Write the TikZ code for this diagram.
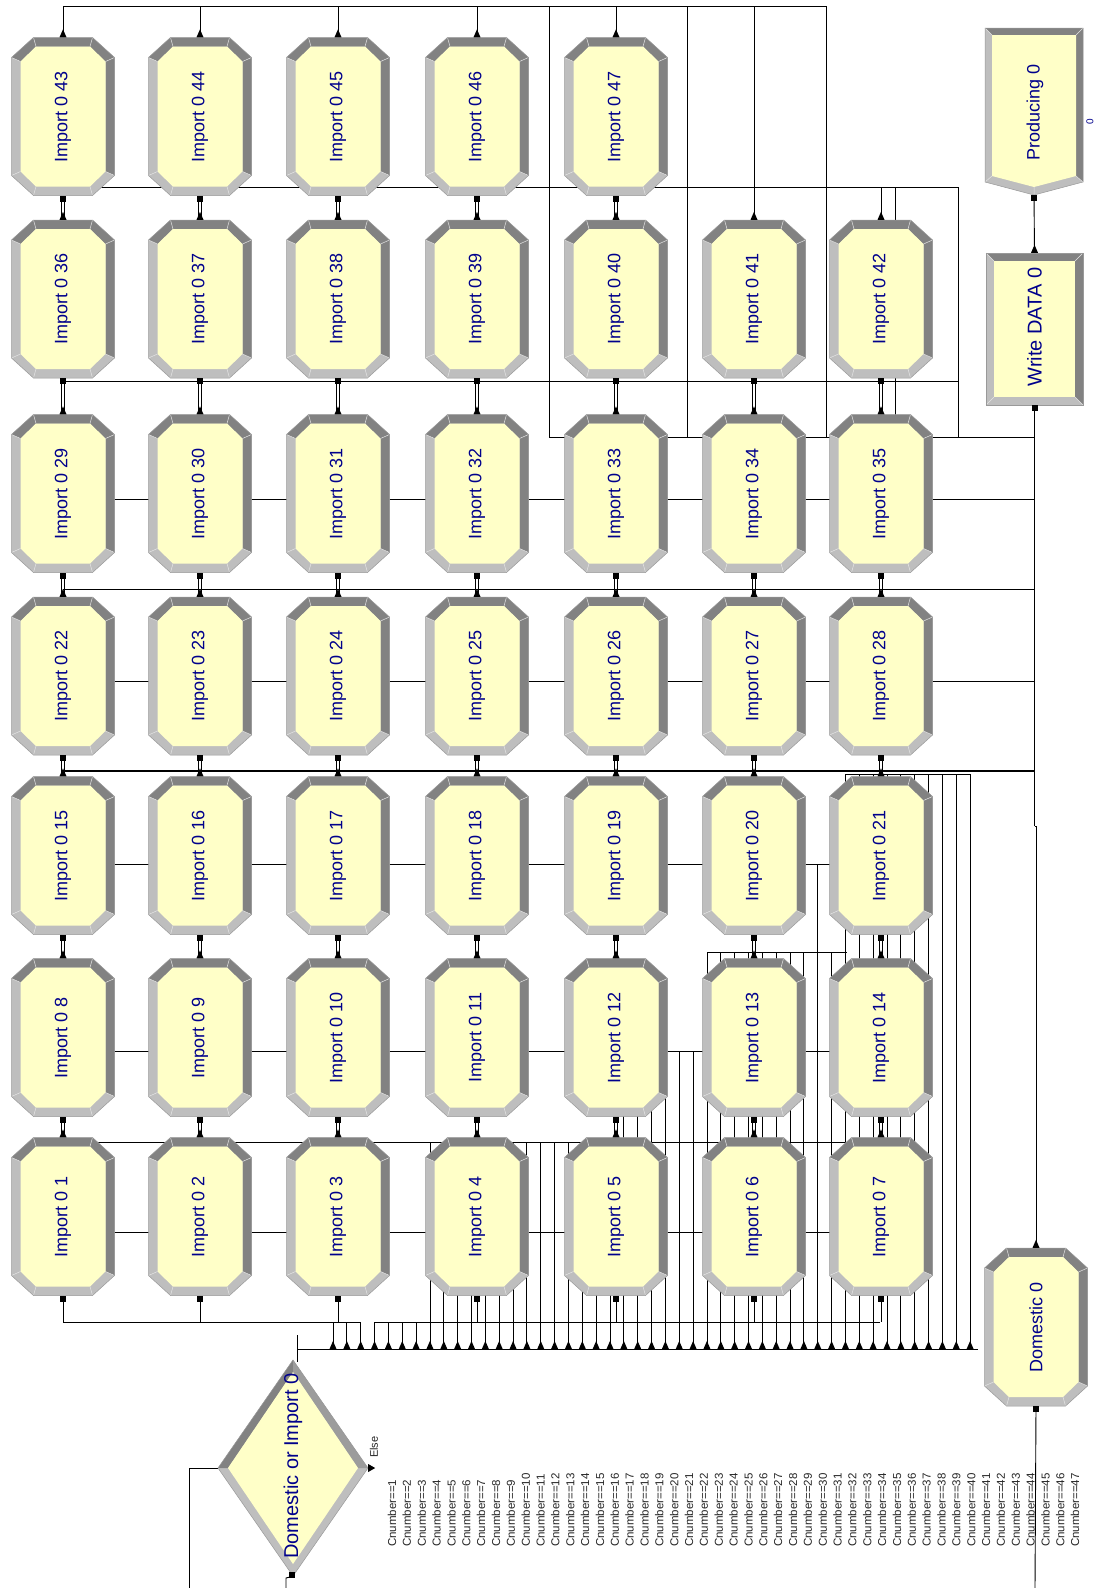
\documentclass[tikz,border=0pt]{standalone}
\usepackage{fontspec}
\setmainfont{Liberation Sans}
\usetikzlibrary{calc}
\pgfdeclarelayer{bg}
\pgfsetlayers{bg,main}

\definecolor{bevd}{HTML}{828282}
\definecolor{bevm}{HTML}{9C9C9C}
\definecolor{bevl}{HTML}{BEBEBE}
\definecolor{modfill}{HTML}{FFFFC8}
\definecolor{modtext}{HTML}{00008C}

\tikzset{
  wire/.style={line width=0.9pt, draw=black},
  thickwire/.style={line width=1.8pt, draw=black},
  modlabel/.style={rotate=90, text=modtext, inner sep=0pt, font=\fontsize{18}{20}\selectfont},
  condlabel/.style={rotate=90, anchor=west, inner sep=0pt, text=black!85, font=\fontsize{11.5}{12}\selectfont},
  anchorbox/.style={inner sep=0pt, minimum width=103pt, minimum height=158pt},
  bevsep/.style={draw=white!80!gray, line width=0.5pt},
  modoutline/.style={draw=black!40, line width=0.5pt},
}

\newcommand\octmod[4]{%
 \begin{scope}[shift={(#2,#3)}]
  \fill[bevl] (-51.5,-59) -- (-29.5,-79) -- (29.5,-79) -- (51.5,-59) -- (51.5,59) -- (29.5,79) -- (-29.5,79) -- (-51.5,59) -- cycle;
  \fill[bevd] (-51.5,-59) -- (-29.5,-79) -- (29.5,-79) -- (51.5,-59) -- (51.5,59) -- (42.5,55) -- (42.5,-55) -- (27,-70) -- (-27,-70) -- (-42.5,-55) -- cycle;
  \fill[modfill] (-42.5,-55) -- (-27,-70) -- (27,-70) -- (42.5,-55) -- (42.5,55) -- (27,70) -- (-27,70) -- (-42.5,55) -- cycle;
  \draw[bevsep] (-51.5,-59) -- (-42.5,-55) (-29.5,-79) -- (-27,-70) (29.5,-79) -- (27,-70) (51.5,-59) -- (42.5,-55) (51.5,59) -- (42.5,55) (29.5,79) -- (27,70) (-29.5,79) -- (-27,70) (-51.5,59) -- (-42.5,55);
  \draw[modoutline] (-51.5,-59) -- (-29.5,-79) -- (29.5,-79) -- (51.5,-59) -- (51.5,59) -- (29.5,79) -- (-29.5,79) -- (-51.5,59) -- cycle;
 \end{scope}
 \node[anchorbox] (#1) at (#2,#3) {};
 \node[modlabel] at (#2,#3) {#4};
}
\newcommand\entrymark[1]{\fill[black] (#1) ++(-3.5,0) -- ++(7,0) -- ++(-3.5,-8) -- cycle;}
\newcommand\exitmark[1]{\fill[black] ($(#1)+(-3,0)$) rectangle ++(6,6);}

\begin{document}
\begin{tikzpicture}[x=1pt,y=-1pt]
\useasboundingbox (0,0) rectangle (1100,1588);

% ---------- Import modules ----------
\foreach \k in {1,...,47}{
  \pgfmathtruncatemacro\rr{(\k-1)/7}
  \pgfmathtruncatemacro\cc{\k-1-7*\rr}
  \pgfmathsetmacro\xx{{63,200,338,477,616,754,881}[\cc]}
  \pgfmathsetmacro\yy{{1216.5,1037.5,855.5,676,493.5,299,116.5}[\rr]}
  \octmod{n\k}{\xx}{\yy}{Import 0 \k}
}

% ---------- Domestic ----------
\octmod{dom}{1036}{1327}{Domestic 0}

% ---------- Write DATA ----------
\begin{scope}[shift={(1034.5,329)}]
 \fill[bevl] (-48.5,-76) rectangle (48.5,76);
 \fill[bevd] (-48.5,-76) -- (48.5,-76) -- (48.5,76) -- (40.5,68) -- (40.5,-68) -- (-40.5,-68) -- cycle;
 \fill[modfill] (-40.5,-68) rectangle (40.5,68);
 \draw[bevsep] (-48.5,-76) -- (-40.5,-68) (48.5,-76) -- (40.5,-68) (48.5,76) -- (40.5,68) (-48.5,76) -- (-40.5,68);
 \draw[modoutline] (-48.5,-76) rectangle (48.5,76);
\end{scope}
\node[inner sep=0pt, minimum width=97pt, minimum height=152pt] (wd) at (1034.5,329) {};
\node[modlabel, font=\fontsize{20}{22}\selectfont] at (1034.5,327) {Write DATA 0};

% ---------- Producing ----------
\begin{scope}[shift={(1034,111)}]
 \fill[bevl] (-49,-83) -- (49,-83) -- (49,71) -- (0,84) -- (-49,71) -- cycle;
 \fill[bevd] (-49,-83) -- (49,-83) -- (49,71) -- (42,65) -- (42,-76) -- (-42,-76) -- cycle;
 \fill[modfill] (-42,-76) -- (42,-76) -- (42,65) -- (0,76) -- (-42,65) -- cycle;
 \draw[bevsep] (-49,-83) -- (-42,-76) (49,-83) -- (42,-76) (49,71) -- (42,65) (0,84) -- (0,76) (-49,71) -- (-42,65);
 \draw[modoutline] (-49,-83) -- (49,-83) -- (49,71) -- (0,84) -- (-49,71) -- cycle;
\end{scope}
\node[inner sep=0pt, minimum width=98pt, minimum height=167pt] (prod) at (1034,111) {};
\node[modlabel, font=\fontsize{18}{20}\selectfont] at (1035,112) {Producing 0};
\node[rotate=90, text=modtext, inner sep=0pt, font=\fontsize{10}{10}\selectfont] (pzero) at (1090,122) {0};

% ---------- Decide ----------
\begin{scope}[shift={(293,1468)}]
 \fill[bevl] (0,-108) -- (75,0) -- (0,108) -- (-75,0) -- cycle;
 \fill[bevd] (0,-108) -- (-75,0) -- (-65,0) -- (0,-96) -- cycle;
 \fill[bevm] (0,-108) -- (75,0) -- (65,0) -- (0,-96) -- cycle;
 \fill[modfill] (0,-96) -- (65,0) -- (0,96) -- (-65,0) -- cycle;
 \draw[modoutline] (0,-108) -- (75,0) -- (0,108) -- (-75,0) -- cycle;
\end{scope}
\node[inner sep=0pt, minimum width=150pt, minimum height=216pt] (dec) at (293,1468) {};
\node[modlabel, font=\fontsize{20}{22}\selectfont] at (293,1466) {Domestic or Import 0};
\node[condlabel, font=\fontsize{11}{12}\selectfont] (elselbl) at (374,1458) {Else};
\fill[black] (dec.east) -- ++(0,-4) -- ++(7,4) -- ++(-7,4) -- cycle;

% ---------- Condition labels ----------
\foreach \k in {1,...,47}{
  \pgfmathsetmacro\lx{392+14.85*(\k-1)}
  \node[condlabel] (c\k) at (\lx,1547) {Cnumber==\k};
}

% ---------- connectors ----------
\coordinate (ltop) at (0,6);
\coordinate (l187) at (0,187);
\coordinate (l1322) at (0,1322);
\coordinate (lbus) at (0,1349);

\begin{pgfonlayer}{bg}
 \fill[white] (0,0) rectangle (1100,1588);
 % top bus
 \draw[wire] (n43.north) -- (n43.north |- ltop) -- (826,6) -- (826,437);
 \foreach \k in {44,45,46,47,41}{ \draw[wire] (n\k.north) -- (n\k.north |- ltop); }
 \draw[wire] (549,6) -- (549,437);
 \draw[wire] (687,6) -- (687,437);
 % channels
 \draw[wire] (63,187) -- (958,187) -- (958,437);
 \draw[wire] (n42.north) -- (n42.north |- l187);
 \draw[wire] (895,187) -- (895,415);
 \draw[wire] (63,381) -- (958,381);
 \draw[wire] (549,437) -- (1034,437);
 \draw[wire] (63,499) -- (1034,499);
 \draw[wire] (63,589) -- (1034,589);
 \draw[wire] (63,681) -- (1034,681);
 \draw[thickwire] (63,771) -- (1034,771);
 \draw[wire] (63,864) -- (832,864);
 \draw[wire] (63,1051) -- (832,1051);
 \draw[wire] (63,1232) -- (832,1232);
 \draw[wire] (63,1142) -- (847,1142);
 \draw[wire] (707,952) -- (847,952);
 \draw[wire] (846,774) -- (970,774);
 \draw[wire] (63,1322) -- (360,1322);
 \draw[wire] (374,1322) -- (880,1322);
 \foreach \k in {1,...,7}{ \draw[wire] (n\k.south) -- (n\k.south |- l1322); }
 % vertical links between rows
 \foreach \k in {1,...,40}{
   \pgfmathtruncatemacro\up{\k+7}
   \draw[wire] ([xshift=-2pt]n\up.south) -- ([xshift=-2pt]n\k.north);
   \draw[wire] ([xshift=1.5pt]n\up.south) -- ([xshift=1.5pt]n\k.north);
 }
 % decide bus
 \draw[wire] (297,1335) -- (297,1362);
 \draw[wire] (297,1349) -- (978,1349);
 \foreach \k in {1,...,47}{
   \pgfmathsetmacro\bx{333+13.85*(\k-1)}
   \pgfmathsetmacro\hk{ifthenelse(\k<8,1322,ifthenelse(\k<22,1142,ifthenelse(\k<28,1051,ifthenelse(\k<36,952,ifthenelse(\k==36,864,ifthenelse(\k==37,952,774))))))}
   \draw[wire] (\bx,1349) -- (\bx,\hk);
 }
 % decide in / out
 \draw[wire] (dec.west) -- (189,1468) -- (189,1588);
 \draw[wire] (dec.south) -- (286,1578) -- (286,1588);
 % producing -> write data, write data -> domestic
 \draw[wire] (prod.south) -- (wd.north);
 \draw[line width=1.6pt] (wd.south) -- (1034.5,826);
 \draw[wire] (1034.5,826) -| (dom.north);
 \draw[wire] (dom.south) -- (1035,1588);
\end{pgfonlayer}

% ---------- entry / exit marks ----------
\foreach \k in {1,...,47}{
  \entrymark{n\k.north}
  \exitmark{n\k.south}
}
\entrymark{dom.north}
\exitmark{dom.south}
\entrymark{wd.north}
\exitmark{wd.south}
\exitmark{prod.south}
\fill[black] (289,1572) rectangle ++(6,6);
\foreach \k in {1,...,47}{
  \pgfmathsetmacro\bx{333+13.85*(\k-1)}
  \entrymark{\bx,1349}
}
\end{tikzpicture}
\end{document}
